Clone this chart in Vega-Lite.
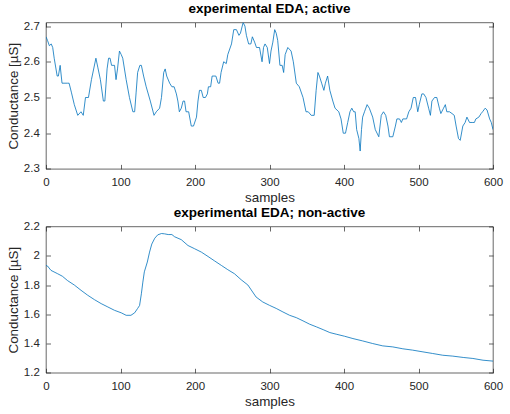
{
  "$schema": "https://vega.github.io/schema/vega-lite/v6.json",
  "background": "white",
  "padding": {"left": 5, "top": 0.5, "right": 5, "bottom": 2},
  "spacing": 57,
  "bounds": "flush",
  "config": {
    "font": "Liberation Sans",
    "view": {"stroke": "#262626", "strokeWidth": 0.7},
    "axis": {
      "domain": false,
      "grid": false,
      "tickColor": "#262626",
      "tickWidth": 0.7,
      "tickSize": -4.5,
      "labelColor": "#262626",
      "labelFont": "Liberation Sans",
      "labelFontSize": 11.5,
      "labelFlush": false,
      "labelOverlap": false,
      "titleColor": "#262626",
      "titleFont": "Liberation Sans",
      "titleFontSize": 13.4,
      "titleFontWeight": "normal"
    },
    "axisX": {"labelPadding": 12, "titleBaseline": "alphabetic", "titleY": 33},
    "axisY": {"labelPadding": 11.2, "titleAngle": -90, "titleBaseline": "middle", "titleX": -33},
    "title": {"font": "Liberation Sans", "fontSize": 13.5, "fontWeight": "bold", "color": "#000000", "baseline": "alphabetic", "offset": 5.5, "anchor": "middle"}
  },
  "datasets": {
    "active": [
      {"s":0,"v":2.67},{"s":2,"v":2.66},{"s":4.5,"v":2.645},{"s":7,"v":2.65},{"s":9,"v":2.64},{"s":11,"v":2.61},{"s":15,"v":2.56},{"s":16.6,"v":2.56},{"s":19,"v":2.59},{"s":21.5,"v":2.54},{"s":29,"v":2.54},{"s":31,"v":2.54},{"s":34,"v":2.515},{"s":38,"v":2.48},{"s":42.6,"v":2.45},{"s":47,"v":2.46},{"s":50,"v":2.45},{"s":53,"v":2.5},{"s":57,"v":2.5},{"s":61,"v":2.55},{"s":67,"v":2.61},{"s":69.5,"v":2.585},{"s":73,"v":2.55},{"s":77,"v":2.49},{"s":79,"v":2.49},{"s":82,"v":2.58},{"s":84,"v":2.61},{"s":86,"v":2.61},{"s":88,"v":2.59},{"s":92,"v":2.59},{"s":94,"v":2.55},{"s":96,"v":2.58},{"s":98.6,"v":2.63},{"s":101,"v":2.62},{"s":103,"v":2.61},{"s":107.6,"v":2.55},{"s":112,"v":2.5},{"s":116.6,"v":2.46},{"s":119,"v":2.46},{"s":121,"v":2.515},{"s":123,"v":2.57},{"s":126,"v":2.59},{"s":128,"v":2.59},{"s":131,"v":2.56},{"s":134.5,"v":2.53},{"s":140,"v":2.49},{"s":145,"v":2.45},{"s":148,"v":2.46},{"s":152.5,"v":2.47},{"s":155,"v":2.5},{"s":158,"v":2.57},{"s":160,"v":2.58},{"s":162,"v":2.56},{"s":166,"v":2.54},{"s":169,"v":2.53},{"s":172,"v":2.53},{"s":175,"v":2.51},{"s":177,"v":2.49},{"s":179,"v":2.46},{"s":181.6,"v":2.47},{"s":184,"v":2.49},{"s":186,"v":2.49},{"s":188,"v":2.46},{"s":191.5,"v":2.46},{"s":195,"v":2.42},{"s":198,"v":2.42},{"s":202,"v":2.445},{"s":204,"v":2.49},{"s":206,"v":2.52},{"s":208.5,"v":2.52},{"s":211,"v":2.5},{"s":214,"v":2.5},{"s":216.6,"v":2.51},{"s":218,"v":2.53},{"s":221,"v":2.53},{"s":223,"v":2.56},{"s":228,"v":2.56},{"s":231,"v":2.54},{"s":233,"v":2.54},{"s":235,"v":2.57},{"s":238.5,"v":2.6},{"s":242,"v":2.595},{"s":244,"v":2.62},{"s":249,"v":2.65},{"s":252,"v":2.69},{"s":255.6,"v":2.69},{"s":259,"v":2.674},{"s":261,"v":2.68},{"s":264.6,"v":2.71},{"s":267,"v":2.7},{"s":269,"v":2.674},{"s":272,"v":2.65},{"s":275,"v":2.65},{"s":277,"v":2.67},{"s":280,"v":2.655},{"s":282.5,"v":2.64},{"s":286.6,"v":2.64},{"s":290,"v":2.6},{"s":292,"v":2.64},{"s":294,"v":2.65},{"s":297,"v":2.64},{"s":300,"v":2.595},{"s":302,"v":2.63},{"s":304.5,"v":2.655},{"s":307,"v":2.69},{"s":309,"v":2.68},{"s":311,"v":2.66},{"s":314,"v":2.59},{"s":317,"v":2.59},{"s":319,"v":2.57},{"s":321,"v":2.62},{"s":324.6,"v":2.64},{"s":329,"v":2.63},{"s":332,"v":2.6},{"s":336,"v":2.54},{"s":340,"v":2.53},{"s":345,"v":2.5},{"s":349,"v":2.46},{"s":352,"v":2.46},{"s":356,"v":2.45},{"s":360,"v":2.45},{"s":362.6,"v":2.52},{"s":365,"v":2.57},{"s":367,"v":2.56},{"s":370,"v":2.54},{"s":373,"v":2.52},{"s":375,"v":2.54},{"s":378,"v":2.56},{"s":381,"v":2.52},{"s":385,"v":2.49},{"s":388,"v":2.47},{"s":393,"v":2.46},{"s":396,"v":2.44},{"s":399,"v":2.4},{"s":402,"v":2.4},{"s":405,"v":2.43},{"s":408,"v":2.46},{"s":410.5,"v":2.47},{"s":413,"v":2.46},{"s":415,"v":2.46},{"s":417,"v":2.41},{"s":420,"v":2.385},{"s":421.7,"v":2.35},{"s":423.5,"v":2.41},{"s":425,"v":2.445},{"s":427.5,"v":2.46},{"s":431,"v":2.48},{"s":434,"v":2.47},{"s":438.5,"v":2.445},{"s":442,"v":2.41},{"s":446.7,"v":2.39},{"s":450,"v":2.45},{"s":453,"v":2.46},{"s":456,"v":2.45},{"s":459,"v":2.42},{"s":461,"v":2.39},{"s":465.5,"v":2.39},{"s":469,"v":2.42},{"s":471,"v":2.44},{"s":474.5,"v":2.44},{"s":477,"v":2.43},{"s":479,"v":2.44},{"s":484,"v":2.44},{"s":487,"v":2.46},{"s":490,"v":2.47},{"s":493,"v":2.5},{"s":496,"v":2.5},{"s":499,"v":2.46},{"s":501,"v":2.48},{"s":504.5,"v":2.51},{"s":507,"v":2.51},{"s":510,"v":2.5},{"s":513.6,"v":2.47},{"s":516,"v":2.45},{"s":518,"v":2.49},{"s":521.5,"v":2.5},{"s":524.6,"v":2.5},{"s":528,"v":2.47},{"s":530,"v":2.455},{"s":533.6,"v":2.47},{"s":536,"v":2.48},{"s":538,"v":2.46},{"s":541.6,"v":2.46},{"s":545,"v":2.455},{"s":548,"v":2.45},{"s":550.5,"v":2.42},{"s":553.7,"v":2.385},{"s":556,"v":2.38},{"s":559.5,"v":2.42},{"s":562.6,"v":2.43},{"s":565,"v":2.445},{"s":568.5,"v":2.43},{"s":572,"v":2.43},{"s":575,"v":2.43},{"s":577,"v":2.44},{"s":581,"v":2.445},{"s":584,"v":2.455},{"s":586,"v":2.46},{"s":589.5,"v":2.47},{"s":592,"v":2.465},{"s":595.5,"v":2.44},{"s":597.7,"v":2.43},{"s":600,"v":2.41}
    ],
    "nonactive": [
      {"s":0,"v":1.934},{"s":2,"v":1.93},{"s":6.7,"v":1.9},{"s":15.7,"v":1.877},{"s":22,"v":1.86},{"s":29,"v":1.83},{"s":38,"v":1.8},{"s":47,"v":1.764},{"s":56,"v":1.73},{"s":65,"v":1.7},{"s":74,"v":1.673},{"s":83,"v":1.65},{"s":92,"v":1.627},{"s":101,"v":1.61},{"s":107.6,"v":1.593},{"s":114,"v":1.593},{"s":119,"v":1.61},{"s":123,"v":1.64},{"s":125.6,"v":1.66},{"s":128,"v":1.74},{"s":130,"v":1.82},{"s":132,"v":1.89},{"s":136,"v":1.957},{"s":139,"v":2.025},{"s":142,"v":2.08},{"s":146,"v":2.12},{"s":150,"v":2.143},{"s":155,"v":2.152},{"s":159,"v":2.15},{"s":164,"v":2.145},{"s":169,"v":2.145},{"s":172.6,"v":2.13},{"s":181.6,"v":2.11},{"s":190.6,"v":2.07},{"s":199.5,"v":2.048},{"s":208.5,"v":2.025},{"s":217.5,"v":1.995},{"s":226.5,"v":1.964},{"s":235.4,"v":1.934},{"s":244,"v":1.905},{"s":253,"v":1.877},{"s":262,"v":1.836},{"s":271,"v":1.8},{"s":282,"v":1.718},{"s":291,"v":1.684},{"s":300,"v":1.661},{"s":309,"v":1.64},{"s":318,"v":1.616},{"s":327,"v":1.593},{"s":336,"v":1.577},{"s":345,"v":1.555},{"s":354,"v":1.532},{"s":363,"v":1.514},{"s":372,"v":1.495},{"s":381,"v":1.475},{"s":389.5,"v":1.464},{"s":400.7,"v":1.45},{"s":412,"v":1.434},{"s":425,"v":1.418},{"s":438.5,"v":1.4},{"s":452,"v":1.384},{"s":465.5,"v":1.377},{"s":479,"v":1.364},{"s":492,"v":1.355},{"s":506,"v":1.343},{"s":519,"v":1.332},{"s":532.6,"v":1.32},{"s":546,"v":1.314},{"s":560,"v":1.305},{"s":573,"v":1.298},{"s":586.6,"v":1.286},{"s":600,"v":1.28}
    ]
  },
  "vconcat": [
    {
      "width": 447,
      "height": 146.4,
      "title": {"text": "experimental EDA; active", "offset": 5},
      "data": {"name": "active"},
      "layer": [
        {
          "mark": {"type": "line", "color": "#0072BD", "strokeWidth": 0.8, "clip": true},
          "encoding": {
            "x": {"field": "s", "type": "quantitative", "scale": {"domain": [0, 600], "nice": false, "zero": false}, "axis": {"values": [0,100,200,300,400,500,600], "title": "samples", "orient": "bottom"}},
            "y": {"field": "v", "type": "quantitative", "scale": {"domain": [2.3, 2.71], "nice": false, "zero": false}, "axis": {"values": [2.3,2.4,2.5,2.6,2.7], "format": ".1f", "title": "Conductance [µS]", "orient": "left"}}
          }
        },
        {
          "mark": {"type": "line", "strokeOpacity": 0},
          "encoding": {
            "x": {"field": "s", "type": "quantitative", "axis": {"values": [0,100,200,300,400,500,600], "labels": false, "title": null, "orient": "top"}},
            "y": {"field": "v", "type": "quantitative", "axis": {"values": [2.3,2.4,2.5,2.6,2.7], "labels": false, "title": null, "orient": "right"}}
          }
        }
      ],
      "resolve": {"axis": {"x": "independent", "y": "independent"}}
    },
    {
      "width": 447,
      "height": 146.3,
      "title": {"text": "experimental EDA; non-active", "offset": 1.5},
      "data": {"name": "nonactive"},
      "layer": [
        {
          "mark": {"type": "line", "color": "#0072BD", "strokeWidth": 0.8, "clip": true},
          "encoding": {
            "x": {"field": "s", "type": "quantitative", "scale": {"domain": [0, 600], "nice": false, "zero": false}, "axis": {"values": [0,100,200,300,400,500,600], "title": "samples", "orient": "bottom"}},
            "y": {"field": "v", "type": "quantitative", "scale": {"domain": [1.2, 2.2], "nice": false, "zero": false}, "axis": {"values": [1.2,1.4,1.6,1.8,2.0,2.2], "format": "~g", "title": "Conductance [µS]", "orient": "left"}}
          }
        },
        {
          "mark": {"type": "line", "strokeOpacity": 0},
          "encoding": {
            "x": {"field": "s", "type": "quantitative", "axis": {"values": [0,100,200,300,400,500,600], "labels": false, "title": null, "orient": "top"}},
            "y": {"field": "v", "type": "quantitative", "axis": {"values": [1.2,1.4,1.6,1.8,2.0,2.2], "labels": false, "title": null, "orient": "right"}}
          }
        }
      ],
      "resolve": {"axis": {"x": "independent", "y": "independent"}}
    }
  ]
}
